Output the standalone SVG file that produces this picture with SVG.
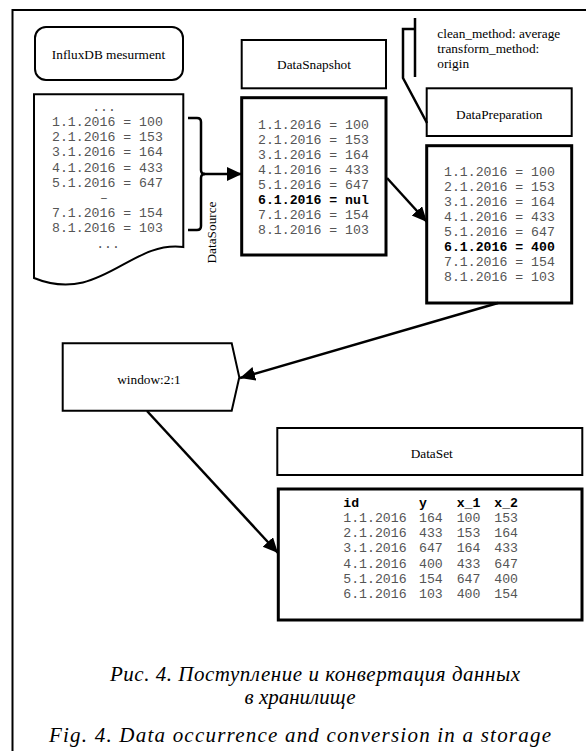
<svg xmlns="http://www.w3.org/2000/svg" width="586" height="751" viewBox="0 0 586 751">
<style>
.lbl{font-family:"Liberation Serif","Times New Roman",serif;font-size:13.3px;fill:#000}
.mono{font-family:"Liberation Mono","Courier New",monospace;font-size:13.2px;fill:#555}
.b{font-weight:bold;fill:#000}
.box{fill:#fff;stroke:#000;stroke-width:2}
.dbox{fill:#fff;stroke:#000;stroke-width:3}
.con{fill:none;stroke:#000;stroke-width:2.5}
.cap{font-family:"Liberation Serif","Times New Roman",serif;font-style:italic;font-size:21px;fill:#000}
</style>
<defs>
<marker id="ah" markerUnits="userSpaceOnUse" markerWidth="16" markerHeight="15" refX="15" refY="7" orient="auto">
<path d="M0,0 L15,7 L0,14 z" fill="#000"/>
</marker>
</defs>
<rect width="586" height="751" fill="#fff"/>
<path d="M12.5,751 V10 H586" fill="none" stroke="#000" stroke-width="2"/>

<g id="influx">
<rect x="35" y="27" width="148" height="53" rx="11" class="box" stroke-width="2.5"/>
<text x="108.5" y="58.8" class="lbl" text-anchor="middle">InfluxDB mesurment</text>
</g>

<g id="source-doc">
<path d="M34,94.3 H183.3 V247 C130,240 100,305 34,278 Z" class="box" stroke-width="2.5"/>
<text class="mono">
<tspan x="108" y="110.8" text-anchor="middle">...</tspan>
<tspan x="52" y="126">1.1.2016 = 100</tspan>
<tspan x="52" y="141.2">2.1.2016 = 153</tspan>
<tspan x="52" y="156.4">3.1.2016 = 164</tspan>
<tspan x="52" y="171.6">4.1.2016 = 433</tspan>
<tspan x="52" y="186.8">5.1.2016 = 647</tspan>
<tspan x="108" y="202" text-anchor="middle">–</tspan>
<tspan x="52" y="217.2">7.1.2016 = 154</tspan>
<tspan x="52" y="232.4">8.1.2016 = 103</tspan>
<tspan x="108" y="247.6" text-anchor="middle">...</tspan>
</text>
</g>

<g id="datasource-label">
<text class="lbl" text-anchor="middle" transform="translate(215.5,232.5) rotate(-90)" font-size="13.8px">DataSource</text>
</g>

<g id="snapshot-header">
<rect x="241.7" y="40" width="144.3" height="48.3" class="box"/>
<text x="314" y="69" class="lbl" text-anchor="middle">DataSnapshot</text>
</g>

<g id="snapshot-data">
<rect x="241.7" y="97.7" width="144.3" height="157.3" class="dbox"/>
<text class="mono">
<tspan x="258" y="129">1.1.2016 = 100</tspan>
<tspan x="258" y="144">2.1.2016 = 153</tspan>
<tspan x="258" y="159">3.1.2016 = 164</tspan>
<tspan x="258" y="174">4.1.2016 = 433</tspan>
<tspan x="258" y="189">5.1.2016 = 647</tspan>
<tspan x="258" y="204" class="b">6.1.2016 = nul</tspan>
<tspan x="258" y="219">7.1.2016 = 154</tspan>
<tspan x="258" y="234">8.1.2016 = 103</tspan>
</text>
</g>

<g id="params-note">
<text class="lbl">
<tspan x="437.3" y="37.5">clean_method: average</tspan>
<tspan x="437.3" y="52.5">transform_method:</tspan>
<tspan x="437.3" y="67.5">origin</tspan>
</text>
</g>

<g id="prep-header">
<rect x="426.7" y="88.3" width="145" height="47.7" class="box"/>
<text x="499.3" y="118.8" class="lbl" text-anchor="middle">DataPreparation</text>
</g>

<g id="prep-data">
<rect x="426.7" y="145.7" width="145" height="157.3" class="dbox"/>
<text class="mono">
<tspan x="444" y="176.3">1.1.2016 = 100</tspan>
<tspan x="444" y="191.2">2.1.2016 = 153</tspan>
<tspan x="444" y="206.1">3.1.2016 = 164</tspan>
<tspan x="444" y="221">4.1.2016 = 433</tspan>
<tspan x="444" y="235.9">5.1.2016 = 647</tspan>
<tspan x="444" y="250.8" class="b">6.1.2016 = 400</tspan>
<tspan x="444" y="265.7">7.1.2016 = 154</tspan>
<tspan x="444" y="280.6">8.1.2016 = 103</tspan>
</text>
</g>

<g id="window">
<path d="M62.7,343.3 H231.7 L239.3,377.3 L231.7,410.7 H62.7 Z" class="box" stroke-width="2.5"/>
<text x="149" y="383.5" class="lbl" text-anchor="middle">window:2:1</text>
</g>

<g id="dataset-header">
<rect x="277.3" y="428" width="305" height="47" class="box"/>
<text x="431.7" y="457.8" class="lbl" text-anchor="middle">DataSet</text>
</g>

<g id="dataset-data">
<rect x="278.3" y="489" width="303.7" height="131" class="dbox"/>
<text class="mono">
<tspan x="343.3" y="506.8" class="b">id</tspan><tspan x="419" y="506.8" class="b">y</tspan><tspan x="456.7" y="506.8" class="b">x_1</tspan><tspan x="494.3" y="506.8" class="b">x_2</tspan>
<tspan x="343.3" y="522">1.1.2016</tspan><tspan x="419" y="522">164</tspan><tspan x="456.7" y="522">100</tspan><tspan x="494.3" y="522">153</tspan>
<tspan x="343.3" y="537.2">2.1.2016</tspan><tspan x="419" y="537.2">433</tspan><tspan x="456.7" y="537.2">153</tspan><tspan x="494.3" y="537.2">164</tspan>
<tspan x="343.3" y="552.4">3.1.2016</tspan><tspan x="419" y="552.4">647</tspan><tspan x="456.7" y="552.4">164</tspan><tspan x="494.3" y="552.4">433</tspan>
<tspan x="343.3" y="567.6">4.1.2016</tspan><tspan x="419" y="567.6">400</tspan><tspan x="456.7" y="567.6">433</tspan><tspan x="494.3" y="567.6">647</tspan>
<tspan x="343.3" y="582.8">5.1.2016</tspan><tspan x="419" y="582.8">154</tspan><tspan x="456.7" y="582.8">647</tspan><tspan x="494.3" y="582.8">400</tspan>
<tspan x="343.3" y="598">6.1.2016</tspan><tspan x="419" y="598">103</tspan><tspan x="456.7" y="598">400</tspan><tspan x="494.3" y="598">154</tspan>
</text>
</g>

<g id="connectors">
<path d="M188,118 H197 Q201,118 201,122 V170 Q201,174 205,174 M205,174 Q201,174 201,178 V226 Q201,230 197,230 H188" class="con" stroke-width="2"/>
<path d="M204,174 H242" class="con" marker-end="url(#ah)"/>
<path d="M415,18 V77 M415,29 H403 V78 L427,123" class="con"/>
<path d="M387,178 L427,222" class="con" marker-end="url(#ah)"/>
<path d="M498,303 L240,378" class="con" marker-end="url(#ah)"/>
<path d="M147,411 L278,553" class="con" marker-end="url(#ah)"/>
</g>

<g id="caption">
<text x="315" y="681" class="cap" text-anchor="middle" textLength="410" lengthAdjust="spacing">Рис. 4. Поступление и конвертация данных</text>
<text x="300" y="704" class="cap" text-anchor="middle">в хранилище</text>
<text x="49" y="742" class="cap" textLength="502" lengthAdjust="spacing">Fig. 4. Data occurrence and conversion in a storage</text>
</g>
</svg>
